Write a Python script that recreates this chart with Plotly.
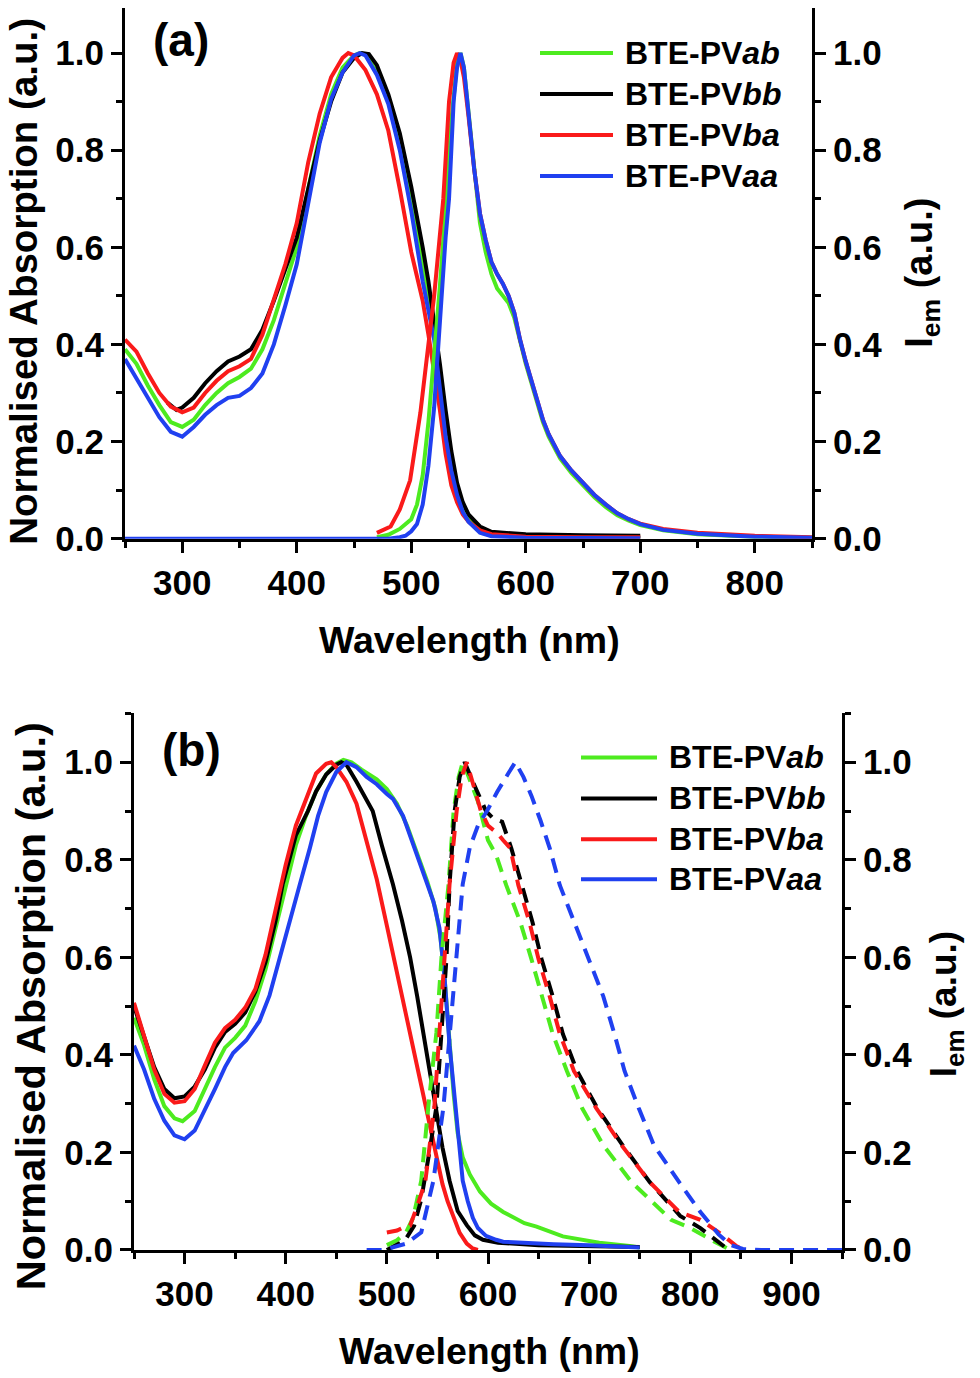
import plotly.graph_objects as go

# ---- data ----
names = ["BTE-PV<i>ab</i>", "BTE-PV<i>bb</i>", "BTE-PV<i>ba</i>", "BTE-PV<i>aa</i>"]
colors = ["#4DEB1F", "#000000", "#FA1A1A", "#2040F0"]

# panel (a), absorption
a_abs_ab_x = [250, 260, 270, 280, 290, 300, 310, 320, 330, 340, 350, 360, 370, 380, 390, 400, 410, 420, 430, 440, 450, 455, 460, 470, 480, 490, 500, 505, 510, 515, 520, 525, 530, 535, 540, 545, 550, 560, 570, 600, 700]
a_abs_ab_y = [0.39, 0.36, 0.315, 0.275, 0.24, 0.23, 0.245, 0.275, 0.30, 0.32, 0.333, 0.35, 0.39, 0.45, 0.525, 0.60, 0.72, 0.83, 0.915, 0.97, 0.995, 1.0, 0.997, 0.96, 0.905, 0.82, 0.70, 0.635, 0.565, 0.50, 0.43, 0.34, 0.24, 0.16, 0.10, 0.063, 0.04, 0.015, 0.007, 0.003, 0.002]
a_abs_bb_x = [287, 295, 300, 310, 320, 330, 340, 350, 360, 370, 380, 390, 400, 410, 420, 430, 440, 450, 457, 463, 470, 480, 490, 500, 505, 510, 515, 520, 525, 530, 535, 540, 545, 550, 560, 570, 600, 650, 700]
a_abs_bb_y = [0.28, 0.265, 0.27, 0.29, 0.32, 0.345, 0.365, 0.375, 0.39, 0.43, 0.49, 0.555, 0.62, 0.72, 0.82, 0.90, 0.96, 0.99, 1.0, 0.998, 0.975, 0.915, 0.835, 0.725, 0.665, 0.60, 0.53, 0.45, 0.36, 0.265, 0.18, 0.115, 0.075, 0.05, 0.025, 0.014, 0.009, 0.007, 0.006]
a_abs_ba_x = [250, 260, 270, 280, 290, 300, 310, 320, 330, 340, 350, 360, 370, 380, 390, 400, 410, 420, 430, 440, 445, 450, 460, 470, 480, 490, 500, 505, 510, 515, 520, 525, 530, 535, 540, 545, 550, 560, 570, 600, 650, 700]
a_abs_ba_y = [0.41, 0.385, 0.34, 0.30, 0.272, 0.26, 0.27, 0.30, 0.325, 0.345, 0.355, 0.37, 0.42, 0.49, 0.565, 0.65, 0.775, 0.875, 0.95, 0.99, 1.0, 0.995, 0.965, 0.915, 0.84, 0.72, 0.59, 0.54, 0.49, 0.42, 0.345, 0.265, 0.175, 0.11, 0.075, 0.05, 0.035, 0.017, 0.009, 0.004, 0.003, 0.003]
a_abs_aa_x = [250, 260, 270, 280, 290, 300, 310, 320, 330, 340, 350, 360, 370, 380, 390, 400, 410, 420, 430, 440, 450, 455, 460, 470, 480, 490, 500, 505, 510, 515, 520, 525, 530, 535, 540, 545, 550, 560, 570, 600, 700]
a_abs_aa_y = [0.37, 0.33, 0.29, 0.25, 0.22, 0.21, 0.23, 0.255, 0.275, 0.29, 0.294, 0.31, 0.34, 0.40, 0.48, 0.565, 0.69, 0.815, 0.905, 0.96, 0.995, 1.0, 0.995, 0.955, 0.895, 0.80, 0.675, 0.60, 0.53, 0.47, 0.41, 0.31, 0.21, 0.14, 0.09, 0.055, 0.035, 0.012, 0.005, 0.002, 0.001]

# panel (a), emission
a_em_ab_x = [470, 480, 490, 500, 505, 510, 515, 520, 525, 530, 535, 540, 543, 546, 550, 555, 560, 565, 570, 575, 580, 585, 590, 595, 600, 605, 610, 615, 620, 630, 640, 650, 660, 670, 680, 690, 700, 720, 750, 800, 850]
a_em_ab_y = [0.003, 0.008, 0.02, 0.04, 0.07, 0.13, 0.24, 0.37, 0.52, 0.68, 0.86, 0.98, 1.0, 0.97, 0.88, 0.75, 0.65, 0.59, 0.545, 0.515, 0.50, 0.485, 0.455, 0.405, 0.36, 0.32, 0.28, 0.24, 0.21, 0.165, 0.135, 0.11, 0.085, 0.065, 0.048, 0.037, 0.028, 0.017, 0.009, 0.004, 0.002]
a_em_ba_x = [470, 482, 490, 499, 508, 515, 520, 528, 533, 537, 540, 543, 546, 550, 555, 560, 565, 570, 575, 580, 585, 590, 595, 600, 605, 610, 615, 620, 630, 640, 650, 660, 670, 680, 690, 700, 720, 750, 800, 850]
a_em_ba_y = [0.012, 0.025, 0.06, 0.12, 0.26, 0.40, 0.50, 0.70, 0.90, 0.98, 1.0, 0.985, 0.95, 0.87, 0.76, 0.67, 0.615, 0.57, 0.545, 0.525, 0.50, 0.465, 0.41, 0.365, 0.325, 0.285, 0.245, 0.215, 0.17, 0.14, 0.115, 0.09, 0.07, 0.052, 0.04, 0.031, 0.02, 0.012, 0.006, 0.003]
a_em_aa_x = [250, 480, 490, 495, 500, 505, 510, 515, 520, 525, 530, 533, 537, 540, 543, 546, 550, 555, 560, 565, 570, 575, 580, 585, 590, 595, 600, 605, 610, 615, 620, 630, 640, 650, 660, 670, 680, 690, 700, 720, 750, 800, 850]
a_em_aa_y = [0.0, 0.0, 0.003, 0.006, 0.015, 0.03, 0.07, 0.15, 0.27, 0.46, 0.62, 0.70, 0.90, 0.97, 1.0, 0.97, 0.88, 0.76, 0.67, 0.615, 0.57, 0.545, 0.525, 0.50, 0.465, 0.41, 0.365, 0.325, 0.285, 0.245, 0.215, 0.17, 0.14, 0.115, 0.09, 0.07, 0.052, 0.04, 0.03, 0.018, 0.01, 0.004, 0.002]

# panel (b), absorption
b_abs_ab_x = [250, 260, 270, 280, 290, 298, 310, 320, 330, 340, 350, 360, 370, 380, 390, 400, 410, 420, 430, 440, 450, 457, 465, 475, 490, 500, 510, 520, 530, 540, 548, 553, 557, 562, 566, 570, 575, 582, 592, 603, 615, 636, 648, 674, 682, 710, 740, 750]
b_abs_ab_y = [0.476, 0.42, 0.35, 0.295, 0.27, 0.264, 0.285, 0.33, 0.375, 0.415, 0.435, 0.46, 0.51, 0.575, 0.66, 0.75, 0.83, 0.89, 0.94, 0.975, 0.997, 1.005, 1.0, 0.985, 0.965, 0.945, 0.915, 0.87, 0.81, 0.755, 0.70, 0.64, 0.56, 0.42, 0.32, 0.24, 0.19, 0.155, 0.12, 0.095, 0.078, 0.055, 0.048, 0.028, 0.025, 0.015, 0.008, 0.005]
b_abs_bb_x = [250, 260, 270, 280, 290, 300, 310, 320, 330, 340, 350, 360, 370, 380, 390, 397, 410, 422, 430, 440, 450, 455, 460, 470, 480, 486, 495, 506, 515, 523, 530, 536, 542, 548, 555, 562, 570, 579, 587, 595, 610, 650, 700, 750]
b_abs_bb_y = [0.50, 0.44, 0.375, 0.33, 0.311, 0.315, 0.335, 0.37, 0.415, 0.447, 0.464, 0.487, 0.53, 0.59, 0.675, 0.75, 0.85, 0.90, 0.94, 0.975, 0.995, 1.0, 0.995, 0.96, 0.925, 0.90, 0.83, 0.75, 0.675, 0.60, 0.52, 0.446, 0.37, 0.294, 0.21, 0.142, 0.08, 0.051, 0.03, 0.021, 0.015, 0.01, 0.008, 0.006]
b_abs_ba_x = [250, 260, 270, 280, 290, 300, 310, 320, 330, 340, 350, 360, 370, 380, 390, 400, 410, 420, 430, 440, 445, 450, 460, 470, 480, 490, 500, 510, 520, 530, 540, 550, 555, 560, 566, 572, 579, 585, 590]
b_abs_ba_y = [0.507, 0.44, 0.37, 0.32, 0.302, 0.305, 0.33, 0.378, 0.425, 0.455, 0.472, 0.497, 0.535, 0.605, 0.70, 0.79, 0.87, 0.925, 0.977, 0.997, 1.0, 0.99, 0.96, 0.915, 0.84, 0.76, 0.665, 0.57, 0.475, 0.38, 0.285, 0.185, 0.135, 0.10, 0.066, 0.035, 0.013, 0.003, 0.0]
b_abs_aa_x = [250, 260, 270, 280, 290, 300, 310, 321, 330, 340, 348, 361, 374, 384, 394, 404, 414, 424, 432, 440, 450, 460, 470, 480, 490, 500, 506, 516, 526, 536, 546, 552, 557, 562, 566, 570, 575, 580, 585, 590, 598, 608, 615, 665, 700, 750]
b_abs_aa_y = [0.419, 0.37, 0.31, 0.265, 0.235, 0.227, 0.245, 0.29, 0.33, 0.375, 0.404, 0.43, 0.469, 0.522, 0.60, 0.674, 0.75, 0.825, 0.89, 0.939, 0.98, 1.0, 0.99, 0.97, 0.955, 0.935, 0.925, 0.89, 0.83, 0.77, 0.715, 0.66, 0.56, 0.42, 0.34, 0.25, 0.142, 0.10, 0.066, 0.045, 0.029, 0.021, 0.017, 0.012, 0.01, 0.005]

# panel (b), emission (dashed)
b_em_ab_x = [500, 510, 519, 526, 534, 541, 549, 554, 561, 566, 571, 575, 580, 590, 600, 608, 618, 632, 643, 653, 664, 678, 693, 714, 742, 781, 800, 824, 838]
b_em_ab_y = [0.01, 0.02, 0.036, 0.066, 0.142, 0.294, 0.446, 0.60, 0.75, 0.90, 0.97, 1.0, 0.975, 0.92, 0.84, 0.81, 0.748, 0.672, 0.596, 0.52, 0.443, 0.367, 0.291, 0.215, 0.139, 0.062, 0.045, 0.017, 0.002]
b_em_bb_x = [500, 510, 518, 527, 534, 542, 549, 554, 559, 562, 567, 572, 577, 585, 598, 605, 614, 623, 634, 644, 653, 664, 674, 688, 708, 733, 760, 790, 810, 838]
b_em_bb_y = [0.0, 0.01, 0.02, 0.05, 0.104, 0.2, 0.294, 0.446, 0.60, 0.75, 0.90, 0.97, 1.0, 0.96, 0.90, 0.885, 0.878, 0.824, 0.748, 0.672, 0.596, 0.52, 0.443, 0.367, 0.291, 0.215, 0.139, 0.07, 0.045, 0.0]
b_em_ba_x = [500, 510, 515, 523, 530, 538, 547, 552, 557, 562, 569, 574, 579, 586, 593, 600, 609, 615, 622, 630, 641, 650, 661, 671, 685, 707, 732, 760, 789, 810, 831, 845, 852]
b_em_ba_y = [0.036, 0.04, 0.045, 0.05, 0.09, 0.14, 0.294, 0.446, 0.60, 0.75, 0.90, 0.97, 1.0, 0.95, 0.90, 0.87, 0.855, 0.84, 0.824, 0.748, 0.672, 0.596, 0.52, 0.443, 0.367, 0.291, 0.215, 0.139, 0.078, 0.062, 0.032, 0.009, 0.0]
b_em_aa_x = [480, 497, 505, 519, 534, 546, 556, 562, 569, 575, 582, 590, 599, 609, 620, 627, 635, 643, 652, 661, 671, 685, 700, 714, 725, 735, 749, 764, 789, 810, 828, 840, 852, 870, 950]
b_em_aa_y = [0.0, 0.0, 0.005, 0.013, 0.036, 0.142, 0.294, 0.446, 0.60, 0.75, 0.825, 0.87, 0.90, 0.939, 0.977, 1.0, 0.97, 0.931, 0.88, 0.824, 0.748, 0.672, 0.596, 0.52, 0.443, 0.367, 0.291, 0.215, 0.139, 0.078, 0.032, 0.01, 0.002, 0.0, 0.0]

a_abs = [(a_abs_ab_x, a_abs_ab_y), (a_abs_bb_x, a_abs_bb_y), (a_abs_ba_x, a_abs_ba_y), (a_abs_aa_x, a_abs_aa_y)]
a_em = [(a_em_ab_x, a_em_ab_y), None, (a_em_ba_x, a_em_ba_y), (a_em_aa_x, a_em_aa_y)]
b_abs = [(b_abs_ab_x, b_abs_ab_y), (b_abs_bb_x, b_abs_bb_y), (b_abs_ba_x, b_abs_ba_y), (b_abs_aa_x, b_abs_aa_y)]
b_em = [(b_em_ab_x, b_em_ab_y), (b_em_bb_x, b_em_bb_y), (b_em_ba_x, b_em_ba_y), (b_em_aa_x, b_em_aa_y)]

# page body has its default 8px margin; the photographed page also comes out
# squeezed vertically by about 1378/1396, so positions are pre-compensated
OFF = 8
SQ = 1378 / 1396
W, H = 980 - 2 * OFF, 1396 - 2 * OFF
FONT = "Arial, Liberation Sans, sans-serif"
LW = 4


def px(x):
    return (x - OFF) / W


def py(y):
    return min(1.0, max(0.0, 1 - (y / SQ - OFF) / H))


fig = go.Figure()

for i in range(4):
    x, y = a_abs[i]
    fig.add_trace(go.Scatter(x=x, y=y, mode="lines", line=dict(color=colors[i], width=LW),
                             xaxis="x", yaxis="y", showlegend=False))
for i in range(4):
    if a_em[i] is None:
        continue
    x, y = a_em[i]
    fig.add_trace(go.Scatter(x=x, y=y, mode="lines", line=dict(color=colors[i], width=LW),
                             xaxis="x", yaxis="y2", showlegend=False))
for i in range(4):
    x, y = b_abs[i]
    fig.add_trace(go.Scatter(x=x, y=y, mode="lines", line=dict(color=colors[i], width=LW),
                             xaxis="x3", yaxis="y3", showlegend=False))
for i in range(4):
    x, y = b_em[i]
    fig.add_trace(go.Scatter(x=x, y=y, mode="lines", line=dict(color=colors[i], width=LW, dash="15px,9px"),
                             xaxis="x3", yaxis="y4", showlegend=False))

tickfont = dict(family=FONT, size=35, color="black", weight="bold")
axline = dict(showline=True, linewidth=3, linecolor="black", showgrid=False, zeroline=False,
              layer="above traces", tickwidth=3, tickcolor="black")


def xbottom(dom, anchor, rng):
    return dict(domain=dom, anchor=anchor, range=rng, dtick=100, tick0=0, ticks="outside", ticklen=11,
                minor=dict(dtick=50, ticks="outside", ticklen=6, tickwidth=3, tickcolor="black"),
                tickfont=tickfont, **axline)


def xtop(over, anchor, rng):
    return dict(overlaying=over, matches=over, anchor=anchor, side="top", range=rng, dtick=100, tick0=0,
                ticks="inside", ticklen=10, showticklabels=False,
                minor=dict(dtick=50, ticks="inside", ticklen=5, tickwidth=3, tickcolor="black"), **axline)


def yleft(dom, anchor, rng):
    return dict(domain=dom, anchor=anchor, range=rng, dtick=0.2, tick0=0, tickformat=".1f",
                ticks="outside", ticklen=11,
                minor=dict(dtick=0.1, ticks="outside", ticklen=6, tickwidth=3, tickcolor="black"),
                tickfont=tickfont, **axline)


def yright(over, anchor, rng):
    return dict(overlaying=over, matches=over, anchor=anchor, side="right", range=rng, dtick=0.2,
                tick0=0, tickformat=".1f", ticks="outside", ticklen=11,
                minor=dict(dtick=0.1, ticks="outside", ticklen=6, tickwidth=3, tickcolor="black"),
                tickfont=tickfont, **axline)


# panel (a): 0.0 at y=539, 1.0 at y=53 in the reference; its frame top sits at the page edge
a_top = (539 - OFF * SQ) / 486
dom_ax = [px(125), px(812)]
dom_ay = [py(539), 1.0]
dom_bx = [px(134), px(842)]
dom_by = [py(1251), py(714)]

fig.update_layout(
    width=W, height=H,
    margin=dict(l=0, r=0, t=0, b=0),
    paper_bgcolor="white", plot_bgcolor="white",
    showlegend=False,
    xaxis=xbottom(dom_ax, "y", [250, 850]),
    xaxis2=xtop("x", "y", [250, 850]),
    yaxis=yleft(dom_ay, "x", [0, a_top]),
    yaxis2=yright("y", "x", [0, a_top]),
    xaxis3=xbottom(dom_bx, "y3", [250, 950]),
    xaxis4=xtop("x3", "y3", [250, 950]),
    yaxis3=yleft(dom_by, "x3", [0, 1.1]),
    yaxis4=yright("y3", "x3", [0, 1.1]),
)


def label(x, y, text, size, angle=0, xanchor="center"):
    fig.add_annotation(x=px(x), y=py(y), xref="paper", yref="paper", text=text, showarrow=False,
                       textangle=angle, xanchor=xanchor, yanchor="middle",
                       font=dict(family=FONT, size=size, color="black", weight="bold"))


# axis titles
label(469, 640, "Wavelength (nm)", 37.5)
label(489, 1352, "Wavelength (nm)", 37.5)
label(24, 282, "Normalised Absorption (a.u.)", 38.5, -90)
label(30, 1007, "Normalised Absorption (a.u.)", 41.5, -90)
label(922, 273, "I<sub>em</sub> (a.u.)", 38, -90)
label(946, 1005, "I<sub>em</sub> (a.u.)", 37, -90)

# panel labels
label(181, 40, "(a)", 46)
label(191, 751, "(b)", 46)

# hand-drawn legends (longer line samples than plotly's legend)
legend_pos = [(540, 613, 623, [53, 94, 135, 176]), (581, 657, 667, [758, 799, 840, 880])]
for x0, x1, xt, ys in legend_pos:
    for i in range(4):
        fig.add_shape(type="line", xref="paper", yref="paper", x0=px(x0), x1=px(x1),
                      y0=py(ys[i]), y1=py(ys[i]), line=dict(color=colors[i], width=LW))
        label(xt, ys[i], names[i], 32, xanchor="left")

fig.write_html("out.html")
